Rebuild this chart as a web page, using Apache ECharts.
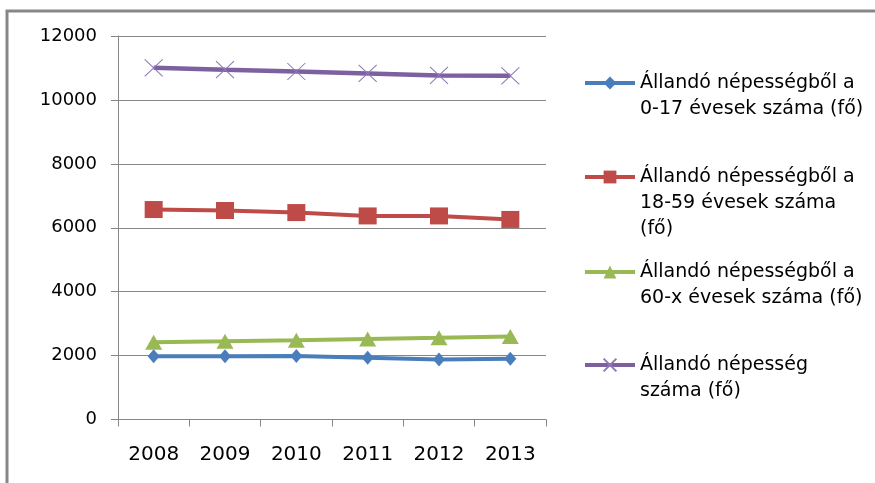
<!DOCTYPE html>
<html>
<head>
<meta charset="utf-8">
<script src="https://cdn.jsdelivr.net/npm/echarts@6/dist/echarts.min.js"></script>
<style>html,body{margin:0;padding:0;background:#fff}#c{width:875px;height:483px}</style>
</head>
<body>
<div id="c"></div>
<script>
var years = ['2008', '2009', '2010', '2011', '2012', '2013'];
var names = [
  'Állandó népességből a 0-17 évesek száma (fő)',
  'Állandó népességből a 18-59 évesek száma (fő)',
  'Állandó népességből a 60-x évesek száma (fő)',
  'Állandó népesség száma (fő)'
];
var legendLines = [
  ['Állandó népességből a', '0-17 évesek száma (fő)'],
  ['Állandó népességből a', '18-59 évesek száma', '(fő)'],
  ['Állandó népességből a', '60-x évesek száma (fő)'],
  ['Állandó népesség', 'száma (fő)']
];
var age0_17 = [1980, 1980, 1990, 1930, 1880, 1900];
var age18_59 = [6570, 6540, 6475, 6370, 6370, 6260];
var age60x = [2415, 2445, 2480, 2520, 2555, 2595];
var total = [11005, 10945, 10890, 10830, 10765, 10755];
var yTicks = { min: 0, max: 12000, interval: 2000 };

var colors = ['#4A7EBB', '#BE4B48', '#98B954', '#7D60A0'];
var font = 'DejaVu Sans';
var LH = 26;
var legendIconY = [83, 177, 272, 365];

var chart = echarts.init(document.getElementById('c'));
var legends = names.map(function (n, i) {
  var k = legendLines[i].length;
  var pad = [];
  for (var j = 1; j < k; j++) pad.push('');
  return {
    data: [n],
    left: 583,
    top: legendIconY[i] - (2 * k - 1) * LH / 2,
    orient: 'vertical',
    itemWidth: 50,
    itemHeight: 16,
    padding: 0,
    selectedMode: false,
    lineStyle: { width: 4 },
    formatter: function () { return pad.concat(legendLines[i]).join('\n'); },
    textStyle: {
      fontFamily: font, fontSize: 19, color: '#000', lineHeight: LH
    }
  };
});

chart.setOption({
  animation: false,
  color: colors,
  graphic: [{
    type: 'rect', silent: true,
    shape: { x: 7, y: 11, width: 900, height: 500 },
    style: { fill: 'none', stroke: '#878787', lineWidth: 3 }
  }],
  legend: legends,
  grid: { left: 118, right: 329, top: 36, bottom: 63.5 },
  xAxis: {
    type: 'category', data: years, boundaryGap: true,
    axisLine: { lineStyle: { color: '#868686', width: 1 } },
    axisTick: { show: true, length: 7, lineStyle: { color: '#868686' } },
    axisLabel: { fontFamily: font, fontSize: 20, color: '#000', margin: 25 }
  },
  yAxis: {
    type: 'value', min: yTicks.min, max: yTicks.max, interval: yTicks.interval,
    axisLine: { show: true, lineStyle: { color: '#868686', width: 1 } },
    axisTick: { show: true, length: 7, lineStyle: { color: '#868686' } },
    splitLine: { lineStyle: { color: '#868686', width: 1 } },
    axisLabel: {
      fontFamily: font, fontSize: 18, color: '#000', margin: 21,
      formatter: function (v) { return String(v); }
    }
  },
  series: [
    {
      name: names[0], type: 'line', data: age0_17,
      symbol: 'diamond', symbolSize: [12, 14],
      lineStyle: { width: 4, color: colors[0] },
      itemStyle: { color: colors[0] }
    },
    {
      name: names[1], type: 'line', data: age18_59,
      symbol: 'rect', symbolSize: [18, 17],
      lineStyle: { width: 4, color: colors[1] },
      itemStyle: { color: colors[1] }
    },
    {
      name: names[2], type: 'line', data: age60x,
      symbol: 'triangle', symbolSize: [17, 15],
      lineStyle: { width: 4, color: colors[2] },
      itemStyle: { color: colors[2] }
    },
    {
      name: names[3], type: 'line', data: total,
      symbol: 'path://M0,0L10,10M10,0L0,10', symbolSize: [18, 17],
      lineStyle: { width: 4.5, color: colors[3] },
      itemStyle: { color: colors[3], borderColor: '#8F78B8', borderWidth: 1 }
    }
  ]
});
</script>
</body>
</html>
